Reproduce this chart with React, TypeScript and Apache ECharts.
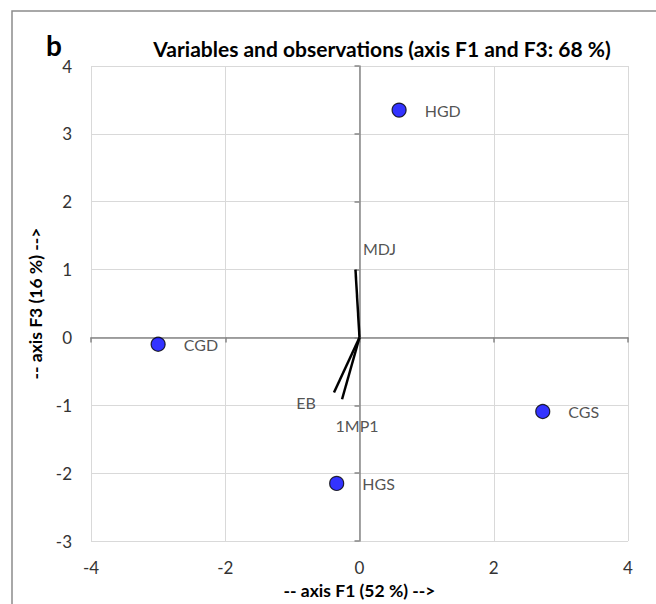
import React, { useEffect, useRef } from "react";
import * as echarts from "echarts";

const xTicks = { min: -4, max: 4, interval: 2 };
const yTicks = { min: -3, max: 4, interval: 1 };

const obsNames = ["HGD", "CGD", "CGS", "HGS"];
const obsX = [0.59, -3.0, 2.73, -0.34];
const obsY = [3.35, -0.1, -1.09, -2.15];

const varNames = ["MDJ", "EB", "1MP1"];
const varX = [-0.06, -0.38, -0.26];
const varY = [1.0, -0.81, -0.91];
const varLabelOffsets: [number, number][] = [
  [24, -21],
  [-28, 10],
  [15, 26],
];

const title = "Variables and observations (axis F1 and F3: 68 %)";
const xName = "-- axis F1 (52 %) -->";
const yName = "-- axis F3 (16 %) -->";
const panel = "b";

const FONT = "Lato";

export default function App() {
  const ref = useRef<HTMLDivElement>(null);
  useEffect(() => {
    document.body.style.margin = "0";
    const chart = echarts.init(ref.current!, null, { renderer: "svg" });
    const vecSeries = varNames.map((n, i) => ({
      type: "line",
      name: n,
      xAxisIndex: 0,
      yAxisIndex: 0,
      data: [
        [0, 0],
        [varX[i], varY[i]],
      ],
      symbol: "none",
      lineStyle: { color: "#000", width: 2.5 },
      z: 5,
      silent: true,
    }));
    chart.setOption({
      animation: false,
      backgroundColor: "#fff",
      textStyle: { fontFamily: FONT },
      title: {
        text: title,
        left: 377,
        top: 33,
        textAlign: "center",
        textStyle: { fontFamily: FONT, fontSize: 21, fontWeight: "bold", color: "#000" },
      },
      graphic: [
        {
          type: "rect",
          shape: { x: 12, y: 11, width: 700, height: 700 },
          style: { fill: "none", stroke: "#8c8c8c", lineWidth: 1.5 },
          z: -1,
        },
        {
          type: "text",
          x: 46,
          y: 31,
          style: { text: panel, font: `bold 28px ${FONT}`, fill: "#000" },
        },
      ],
      grid: { left: 91, right: 28, top: 66, bottom: 62 },
      xAxis: [
        {
          type: "value",
          ...xTicks,
          axisLine: { show: false },
          axisTick: { show: false },
          splitLine: { show: true, lineStyle: { color: "#d9d9d9", width: 1 } },
          axisLabel: { margin: 18, fontSize: 17, color: "#333", fontFamily: FONT },
          name: xName,
          nameLocation: "middle",
          nameGap: 39,
          nameTextStyle: { fontSize: 17.5, fontWeight: "bold", color: "#000", fontFamily: FONT },
        },
        {
          type: "value",
          ...xTicks,
          position: "bottom",
          axisLine: { show: true, onZero: true, onZeroAxisIndex: 0, lineStyle: { color: "#868686", width: 1.5 } },
          axisTick: { show: true, inside: false, length: 5, lineStyle: { color: "#868686", width: 1.5 } },
          splitLine: { show: false },
          axisLabel: { show: false },
        },
      ],
      yAxis: [
        {
          type: "value",
          ...yTicks,
          axisLine: { show: false },
          axisTick: { show: false },
          splitLine: { show: true, lineStyle: { color: "#d9d9d9", width: 1 } },
          axisLabel: { margin: 19, fontSize: 17, color: "#333", fontFamily: FONT },
          name: yName,
          nameLocation: "middle",
          nameGap: 46,
          nameTextStyle: { fontSize: 17.5, fontWeight: "bold", color: "#000", fontFamily: FONT },
        },
        {
          type: "value",
          ...yTicks,
          position: "left",
          axisLine: { show: true, onZero: true, onZeroAxisIndex: 0, lineStyle: { color: "#868686", width: 1.5 } },
          axisTick: { show: true, inside: false, length: 5, lineStyle: { color: "#868686", width: 1.5 } },
          splitLine: { show: false },
          axisLabel: { show: false },
        },
      ],
      series: [
        ...vecSeries,
        {
          type: "scatter",
          name: "variables",
          xAxisIndex: 0,
          yAxisIndex: 0,
          symbolSize: 1,
          itemStyle: { color: "rgba(0,0,0,0)" },
          data: varNames.map((n, i) => ({
            value: [varX[i], varY[i]],
            name: n,
            label: { offset: varLabelOffsets[i] },
          })),
          label: {
            show: true,
            position: "inside",
            formatter: (p: any) => p.name,
            fontSize: 16,
            color: "#262626",
            fontFamily: FONT,
          },
          z: 6,
        },
        {
          type: "scatter",
          name: "observations",
          xAxisIndex: 0,
          yAxisIndex: 0,
          symbolSize: 14,
          itemStyle: { color: "#0000ff", borderColor: "#000", borderWidth: 1.2 },
          data: obsNames.map((n, i) => ({ value: [obsX[i], obsY[i]], name: n })),
          label: {
            show: true,
            position: "right",
            distance: 18,
            formatter: (p: any) => p.name,
            fontSize: 16,
            color: "#262626",
            fontFamily: FONT,
          },
          z: 7,
        },
      ],
    });
    return () => chart.dispose();
  }, []);
  return <div ref={ref} style={{ width: 656, height: 604 }} />;
}
